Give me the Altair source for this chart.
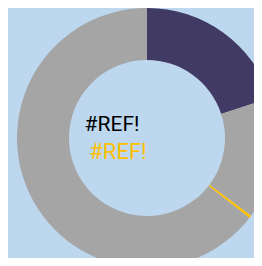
import altair as alt
import pandas as pd

categories = ["A", "B", "C", "D"]
values = [20.0, 15.2, 0.35, 64.45]
colors = ["#403A64", "#A5A5A5", "#FFC000", "#A5A5A5"]
labels = ["#REF!", "#REF!"]
label_colors = ["#000000", "#FFC000"]

df = pd.DataFrame({"cat": categories, "val": values, "ord": list(range(len(categories)))})

arc = alt.Chart(df).mark_arc(outerRadius=130, innerRadius=78, stroke=None).encode(
    theta=alt.Theta("val:Q", stack=True),
    order=alt.Order("ord:Q"),
    color=alt.Color("cat:N", scale=alt.Scale(domain=categories, range=colors), legend=None),
    x=alt.value(139),
    y=alt.value(130),
)

t1 = alt.Chart(pd.DataFrame({"t": [labels[0]]})).mark_text(
    font="Roboto", fontSize=21, color=label_colors[0], align="center", baseline="middle"
).encode(text="t:N", x=alt.value(104), y=alt.value(117))

t2 = alt.Chart(pd.DataFrame({"t": [labels[1]]})).mark_text(
    font="Roboto", fontSize=22, color=label_colors[1], align="center", baseline="middle"
).encode(text="t:N", x=alt.value(110), y=alt.value(144))

chart = alt.layer(arc, t1, t2).properties(
    width=246, height=250, background="#BDD7EE", padding=0,
    autosize=alt.AutoSizeParams(type="none")
).configure_view(stroke=None)

chart.save("out.html", embed_options={"renderer": "svg", "actions": False})
